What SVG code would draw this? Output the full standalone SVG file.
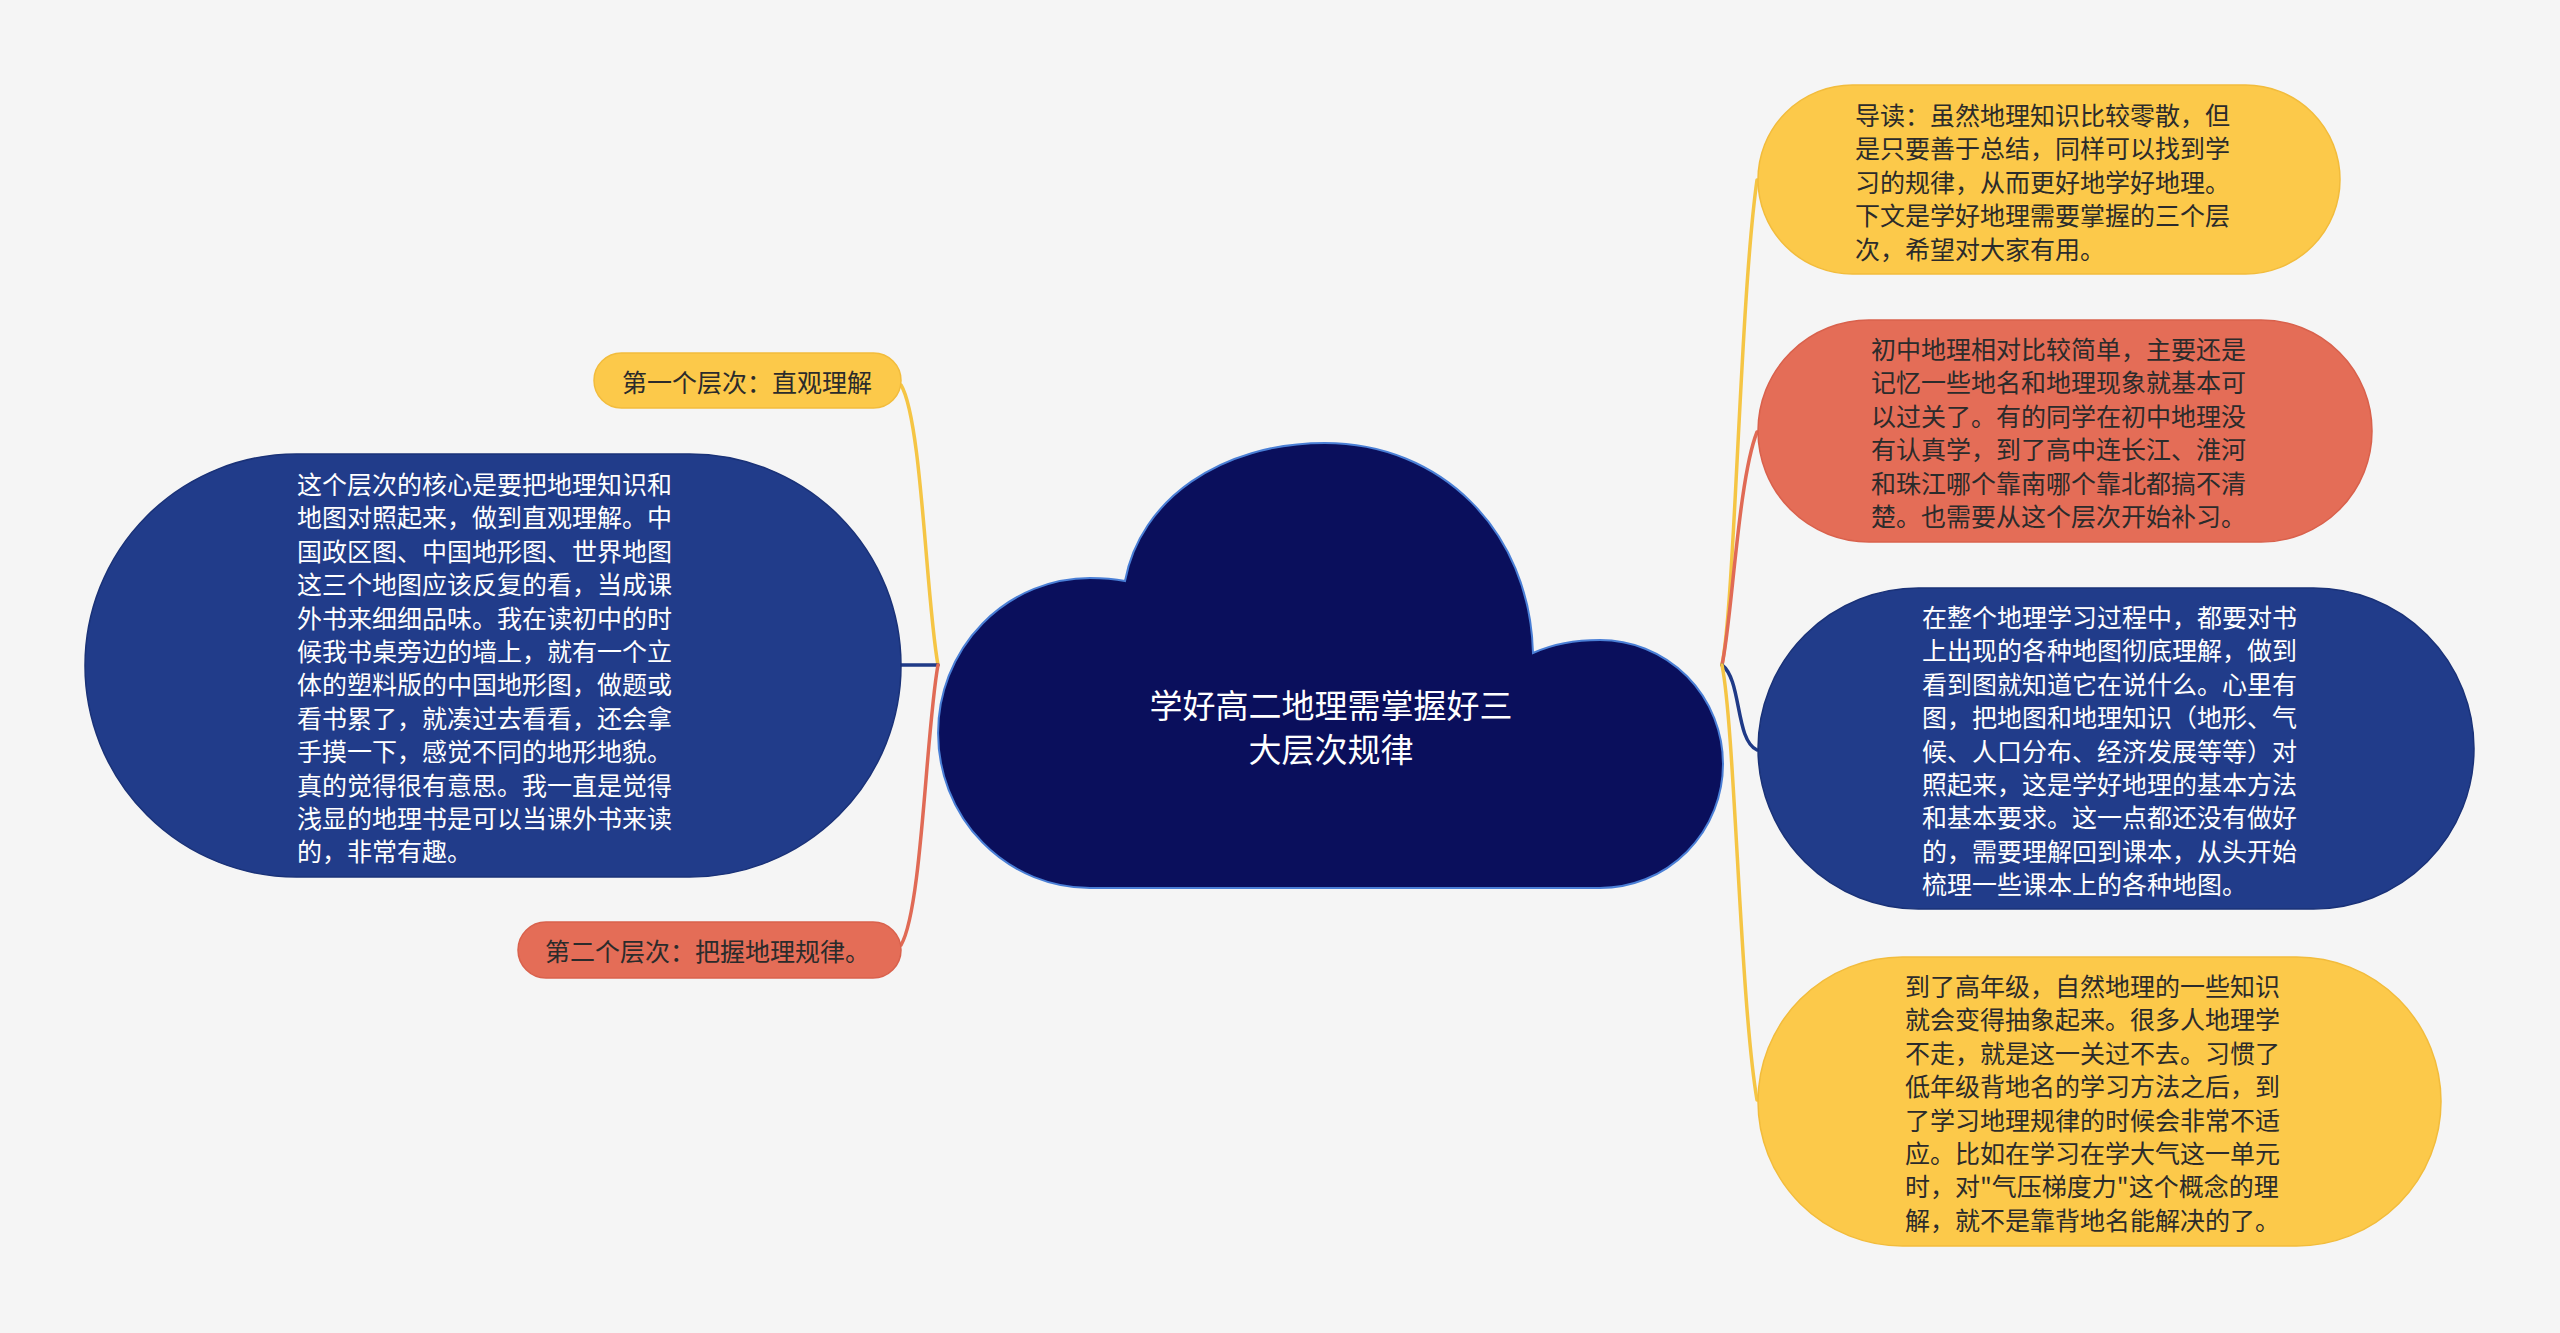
<svg xmlns="http://www.w3.org/2000/svg" width="2560" height="1333" viewBox="0 0 2560 1333">
<style>
.t{font-family:"Noto Sans CJK SC","Noto Sans",sans-serif;font-size:25px;dominant-baseline:central}
.dark{fill:#2b2b2b}
.light{fill:#ffffff}
.yel{fill:#FCC94A;stroke:#F2BC3C;stroke-width:1.5}
.red{fill:#E46D57;stroke:#D9614C;stroke-width:1.5}
.blu{fill:#213C8A;stroke:#1A3278;stroke-width:1.5}
.c{fill:none;stroke-width:3.5;stroke-linecap:round}
</style>
<rect width="2560" height="1333" fill="#F5F5F5"/>
<g id="connectors">
<path class="c" stroke="#F5C544" d="M 938 665 C 926 600, 922 420, 901 385"/>
<path class="c" stroke="#1F3A87" d="M 938 665 L 901 665"/>
<path class="c" stroke="#E06A55" d="M 938 665 C 926 730, 922 910, 901 945"/>
<path class="c" stroke="#F5C544" d="M 1722 665 C 1735 600, 1740 300, 1757 180"/>
<path class="c" stroke="#E06A55" d="M 1722 665 C 1732 620, 1738 480, 1757 432"/>
<path class="c" stroke="#1F3A87" d="M 1722 665 C 1742 680, 1735 740, 1757 750"/>
<path class="c" stroke="#F5C544" d="M 1722 665 C 1735 730, 1740 1000, 1757 1100"/>
</g>
<g id="center">
<path d="M 1090 888 A 152 155 0 0 1 1090 578 C 1105 578, 1115 579, 1125 581 C 1140 500, 1220 443, 1325 443 C 1440 443, 1530 530, 1533 653 C 1553 644, 1575 640, 1600 640 A 123 124 0 0 1 1600 888 Z" fill="#0A0F5C" stroke="#4A7FD6" stroke-width="2"/>
<text class="t light" style="font-size:33px" text-anchor="middle"><tspan x="1331" y="704">学好高二地理需掌握好三</tspan><tspan x="1331" y="748">大层次规律</tspan></text>
</g>
<g id="node-r1">
<rect class="yel" x="1758" y="85" width="582" height="189" rx="94.5"/>
<text class="t dark"><tspan x="1855" y="114">导读：虽然地理知识比较零散，但</tspan><tspan x="1855" y="147.4">是只要善于总结，同样可以找到学</tspan><tspan x="1855" y="180.8">习的规律，从而更好地学好地理。</tspan><tspan x="1855" y="214.2">下文是学好地理需要掌握的三个层</tspan><tspan x="1855" y="247.6">次，希望对大家有用。</tspan></text>
</g>
<g id="node-r2">
<rect class="red" x="1758" y="320" width="614" height="222" rx="111"/>
<text class="t dark"><tspan x="1871" y="348">初中地理相对比较简单，主要还是</tspan><tspan x="1871" y="381.4">记忆一些地名和地理现象就基本可</tspan><tspan x="1871" y="414.8">以过关了。有的同学在初中地理没</tspan><tspan x="1871" y="448.2">有认真学，到了高中连长江、淮河</tspan><tspan x="1871" y="481.6">和珠江哪个靠南哪个靠北都搞不清</tspan><tspan x="1871" y="515">楚。也需要从这个层次开始补习。</tspan></text>
</g>
<g id="node-r3">
<rect class="blu" x="1758" y="588" width="716" height="321" rx="160.5"/>
<text class="t light"><tspan x="1922" y="616">在整个地理学习过程中，都要对书</tspan><tspan x="1922" y="649.4">上出现的各种地图彻底理解，做到</tspan><tspan x="1922" y="682.8">看到图就知道它在说什么。心里有</tspan><tspan x="1922" y="716.2">图，把地图和地理知识（地形、气</tspan><tspan x="1922" y="749.6">候、人口分布、经济发展等等）对</tspan><tspan x="1922" y="783">照起来，这是学好地理的基本方法</tspan><tspan x="1922" y="816.4">和基本要求。这一点都还没有做好</tspan><tspan x="1922" y="849.8">的，需要理解回到课本，从头开始</tspan><tspan x="1922" y="883.2">梳理一些课本上的各种地图。</tspan></text>
</g>
<g id="node-r4">
<rect class="yel" x="1758" y="957" width="683" height="289" rx="144.5"/>
<text class="t dark"><tspan x="1905" y="985">到了高年级，自然地理的一些知识</tspan><tspan x="1905" y="1018.4">就会变得抽象起来。很多人地理学</tspan><tspan x="1905" y="1051.8">不走，就是这一关过不去。习惯了</tspan><tspan x="1905" y="1085.2">低年级背地名的学习方法之后，到</tspan><tspan x="1905" y="1118.6">了学习地理规律的时候会非常不适</tspan><tspan x="1905" y="1152">应。比如在学习在学大气这一单元</tspan><tspan x="1905" y="1185.4">时，对"气压梯度力"这个概念的理</tspan><tspan x="1905" y="1218.8">解，就不是靠背地名能解决的了。</tspan></text>
</g>
<g id="node-l1">
<rect class="yel" x="594" y="353" width="307" height="55" rx="27.5"/>
<text class="t dark" x="622" y="380.5">第一个层次：直观理解</text>
</g>
<g id="node-l2">
<rect class="blu" x="85" y="454" width="816" height="423" rx="211.5"/>
<text class="t light"><tspan x="297" y="483">这个层次的核心是要把地理知识和</tspan><tspan x="297" y="516.4">地图对照起来，做到直观理解。中</tspan><tspan x="297" y="549.8">国政区图、中国地形图、世界地图</tspan><tspan x="297" y="583.2">这三个地图应该反复的看，当成课</tspan><tspan x="297" y="616.6">外书来细细品味。我在读初中的时</tspan><tspan x="297" y="650">候我书桌旁边的墙上，就有一个立</tspan><tspan x="297" y="683.4">体的塑料版的中国地形图，做题或</tspan><tspan x="297" y="716.8">看书累了，就凑过去看看，还会拿</tspan><tspan x="297" y="750.2">手摸一下，感觉不同的地形地貌。</tspan><tspan x="297" y="783.6">真的觉得很有意思。我一直是觉得</tspan><tspan x="297" y="817">浅显的地理书是可以当课外书来读</tspan><tspan x="297" y="850.4">的，非常有趣。</tspan></text>
</g>
<g id="node-l3">
<rect class="red" x="518" y="922" width="383" height="56" rx="28"/>
<text class="t dark" x="545" y="950">第二个层次：把握地理规律。</text>
</g>
</svg>
